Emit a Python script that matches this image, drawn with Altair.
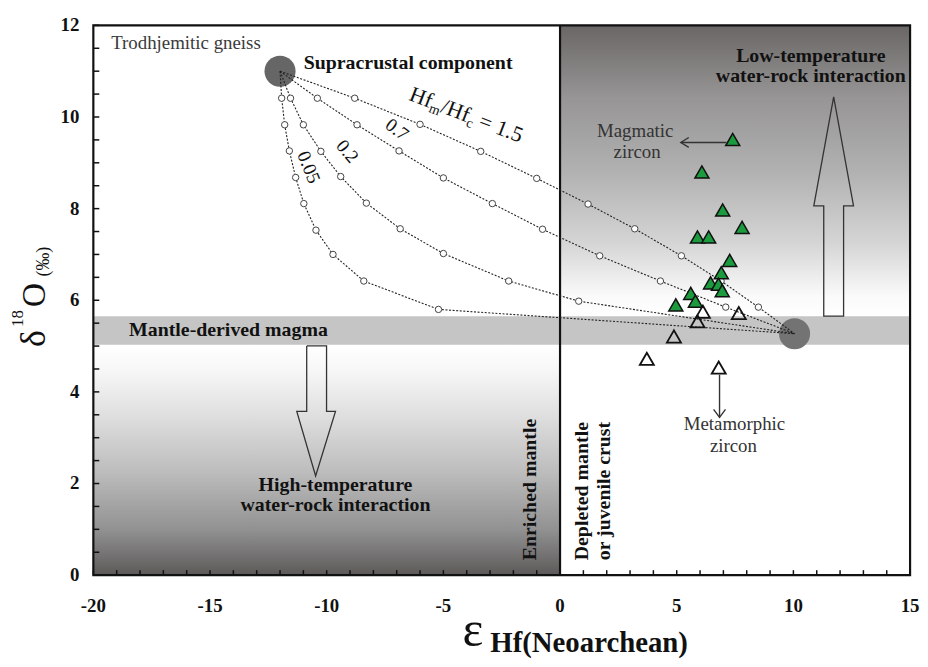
import math
import altair as alt
import pandas as pd

SERIF = "Liberation Serif"

# ---------------- data ----------------
x_labels = [-20, -15, -10, -5, 0, 5, 10, 15]
y_labels = [0, 2, 4, 6, 8, 10, 12]
x_minor = list(range(-20, 16))
y_minor = [i * 0.5 for i in range(0, 25)]

# magmatic zircon (filled green triangles)
mag_x = [7.40, 6.08, 6.97, 7.80, 5.89, 6.37, 7.27, 6.91, 6.45, 6.79, 6.95, 5.60, 5.80, 4.96]
mag_y = [9.51, 8.80, 7.97, 7.59, 7.38, 7.38, 6.87, 6.60, 6.38, 6.35, 6.21, 6.15, 5.98, 5.90]
# metamorphic zircon (open triangles)
met_x = [7.66, 6.12, 5.89, 4.88, 3.72, 6.80]
met_y = [5.72, 5.75, 5.54, 5.21, 4.72, 4.53]

# end members
supra = (-12.0, 11.0)
mantle = (10.05, 5.27)

# mixing curves (intermediate points)
curve_names = ["1.5", "0.7", "0.2", "0.05"]
c15_x = [-8.8, -6.0, -3.4, -1.0, 1.2, 3.2, 5.2, 6.9, 8.5]
c15_y = [10.41, 9.84, 9.25, 8.66, 8.10, 7.56, 6.97, 6.42, 5.85]
c07_x = [-10.4, -8.7, -6.9, -5.0, -2.9, -0.75, 1.7, 4.3, 7.1]
c07_y = [10.41, 9.83, 9.26, 8.67, 8.11, 7.55, 6.97, 6.42, 5.85]
c02_x = [-11.55, -11.0, -10.25, -9.4, -8.3, -6.85, -5.0, -2.2, 0.8]
c02_y = [10.41, 9.83, 9.25, 8.70, 8.12, 7.56, 7.02, 6.42, 5.98]
c005_x = [-11.93, -11.8, -11.6, -11.33, -10.98, -10.46, -9.73, -8.41, -5.21]
c005_y = [10.41, 9.83, 9.26, 8.68, 8.11, 7.53, 7.00, 6.42, 5.80]

# field limits
band_lo, band_hi = 5.03, 5.65

# ---------------- geometry helpers ----------------
W, H = 823, 554
X0, Y0 = 94, 23
XD = [-20, 15]
YD = [0, 12]


def dx(px):
    return XD[0] + (px - X0) / W * (XD[1] - XD[0])


def dy(py):
    return YD[1] - (py - Y0) / H * (YD[1] - YD[0])


xs = alt.Scale(domain=XD, nice=False, zero=False)
ys = alt.Scale(domain=YD, nice=False, zero=False)


def X(f="x"):
    return alt.X(f"{f}:Q", scale=xs, axis=None)


def Y(f="y"):
    return alt.Y(f"{f}:Q", scale=ys, axis=None)


layers = []

# ---------------- background fields ----------------
g_top = alt.Gradient(
    gradient="linear", x1=0, y1=0, x2=0, y2=1,
    stops=[
        alt.GradientStop(offset=0, color="#6a6666"),
        alt.GradientStop(offset=0.25, color="#979595"),
        alt.GradientStop(offset=0.5, color="#b1b1b1"),
        alt.GradientStop(offset=0.75, color="#d5d5d5"),
        alt.GradientStop(offset=0.93, color="#fafafa"),
        alt.GradientStop(offset=1, color="#ffffff"),
    ],
)
g_bot = alt.Gradient(
    gradient="linear", x1=0, y1=0, x2=0, y2=1,
    stops=[
        alt.GradientStop(offset=0, color="#ffffff"),
        alt.GradientStop(offset=0.1, color="#f8f8f8"),
        alt.GradientStop(offset=0.3, color="#e0e0e0"),
        alt.GradientStop(offset=0.55, color="#bdbdbd"),
        alt.GradientStop(offset=0.8, color="#929292"),
        alt.GradientStop(offset=1, color="#5d5959"),
    ],
)
top_df = pd.DataFrame({"x": [0], "x2": [15], "y": [band_hi], "y2": [12]})
bot_df = pd.DataFrame({"x": [-20], "x2": [0], "y": [0], "y2": [band_lo]})
band_df = pd.DataFrame({"x": [-20], "x2": [15], "y": [band_lo], "y2": [band_hi]})

layers.append(alt.Chart(top_df).mark_rect(fill=g_top).encode(x=X(), x2="x2:Q", y=Y(), y2="y2:Q"))
layers.append(alt.Chart(bot_df).mark_rect(fill=g_bot).encode(x=X(), x2="x2:Q", y=Y(), y2="y2:Q"))
layers.append(alt.Chart(band_df).mark_rect(color="#c5c5c5").encode(x=X(), x2="x2:Q", y=Y(), y2="y2:Q"))

# vertical divide at eHf = 0
zero_df = pd.DataFrame({"x": [0], "y": [0], "y2": [12]})
layers.append(alt.Chart(zero_df).mark_rule(color="#111", strokeWidth=2.2).encode(x=X(), y=Y(), y2="y2:Q"))

# big hollow arrows
up_px = [(840, 95), (860, 205), (850, 205), (850, 316), (830, 316), (830, 205), (820, 205), (840, 95)]
dn_px = [(309, 346), (329, 346), (329, 412), (338, 412), (318, 477), (299, 412), (309, 412), (309, 346)]
arr_rows = []
for name, pts in [("up", up_px), ("down", dn_px)]:
    for i, (px, py) in enumerate(pts):
        arr_rows.append({"a": name, "o": i, "x": dx(px), "y": dy(py)})
layers.append(alt.Chart(pd.DataFrame(arr_rows)).mark_line(color="#333", strokeWidth=1.3).encode(
    x=X(), y=Y(), detail="a:N", order="o:Q"))

# end-member circles
em_df = pd.DataFrame({"x": [supra[0], mantle[0]], "y": [supra[1], mantle[1]], "c": ["#676666", "#737373"]})
layers.append(alt.Chart(em_df).mark_circle(size=980, opacity=1).encode(
    x=X(), y=Y(), color=alt.Color("c:N", scale=None)))

# mixing curves
curve_rows, dot_rows = [], []
for name, cx, cy in [("1.5", c15_x, c15_y), ("0.7", c07_x, c07_y), ("0.2", c02_x, c02_y), ("0.05", c005_x, c005_y)]:
    pts = [supra] + list(zip(cx, cy)) + [mantle]
    for i, (a, b) in enumerate(pts):
        curve_rows.append({"r": name, "o": i, "x": a, "y": b})
    for a, b in zip(cx, cy):
        dot_rows.append({"r": name, "x": a, "y": b})
layers.append(alt.Chart(pd.DataFrame(curve_rows)).mark_line(
    color="#222", strokeWidth=1.1, strokeDash=[2, 1.6]).encode(x=X(), y=Y(), detail="r:N", order="o:Q"))
layers.append(alt.Chart(pd.DataFrame(dot_rows)).mark_point(
    shape="circle", size=42, filled=True, fill="white", stroke="#444", strokeWidth=1, opacity=1).encode(x=X(), y=Y()))

# zircon data
mag_df = pd.DataFrame({"x": mag_x, "y": mag_y})
met_df = pd.DataFrame({"x": met_x, "y": met_y})
layers.append(alt.Chart(mag_df).mark_point(
    shape="triangle-up", size=200, filled=True, fill="#1b9a3e", stroke="#111", strokeWidth=1.5, opacity=1).encode(x=X(), y=Y()))
layers.append(alt.Chart(met_df).mark_point(
    shape="triangle-up", size=200, filled=False, stroke="#111", strokeWidth=1.8, opacity=1).encode(x=X(), y=Y()))

# small annotation arrows
sm_rows = []
for name, pts in [
    ("mag_line", [(686, 141), (732, 141)]),
    ("mag_head", [(694, 136), (686, 141), (694, 146)]),
    ("met_line", [(725, 375), (725, 418)]),
    ("met_head", [(719, 410), (725, 418), (731, 410)]),
]:
    for i, (px, py) in enumerate(pts):
        sm_rows.append({"a": name, "o": i, "x": dx(px), "y": dy(py)})
layers.append(alt.Chart(pd.DataFrame(sm_rows)).mark_line(color="#333", strokeWidth=1.4).encode(
    x=X(), y=Y(), detail="a:N", order="o:Q"))


# ---------------- texts ----------------
def tlayer(rows, **kw):
    df = pd.DataFrame([{"x": dx(px), "y": dy(py), "t": t} for (t, px, py) in rows])
    return alt.Chart(df).mark_text(font=SERIF, **kw).encode(x=X(), y=Y(), text="t:N")


layers.append(tlayer([("Low-temperature", 817, 60), ("water-rock interaction", 817, 80),
                      ("High-temperature", 338, 492), ("water-rock interaction", 338, 512)],
                     fontSize=20, fontWeight="bold", align="center", baseline="alphabetic", color="#111"))
layers.append(tlayer([("Supracrustal component", 306, 67), ("Mantle-derived magma", 130, 336)],
                     fontSize=20, fontWeight="bold", align="left", baseline="alphabetic", color="#111"))
layers.append(tlayer([("Magmatic", 640, 135), ("zircon", 642, 157),
                      ("Metamorphic", 740, 431), ("zircon", 739, 453)],
                     fontSize=19, align="center", baseline="alphabetic", color="#333"))
layers.append(tlayer([("Trodhjemitic gneiss", 112, 47)],
                     fontSize=19, align="left", baseline="alphabetic", color="#3a3a3a"))
layers.append(tlayer([("Enriched mantle", 534, 562), ("Depleted mantle", 586, 562), ("or juvenile crust", 609, 562)],
                     fontSize=20, fontWeight="bold", align="left", baseline="middle", angle=270, color="#111"))

# curve labels
lab_rows = []
for t, px, py, ang in [("0.05", 311, 166, 68), ("0.2", 350, 150, 50), ("0.7", 400, 128, 37)]:
    lab_rows.append({"x": dx(px), "y": dy(py), "t": t, "fs": 19, "ang": ang})
layers.append(alt.Chart(pd.DataFrame(lab_rows)).mark_text(font=SERIF, align="center", baseline="middle", color="#111").encode(
    x=X(), y=Y(), text="t:N", size=alt.Size("fs:Q", scale=None, legend=None), angle=alt.Angle("ang:Q", scale=None)))

ang = 21
ux, uy = math.cos(math.radians(ang)), math.sin(math.radians(ang))
nx, ny = -math.sin(math.radians(ang)), math.cos(math.radians(ang))
sx, sy = 411, 98
pieces = [("Hf", 22, 0, 1.055), ("m", 14, 4, 0.778), ("/Hf", 22, 0, 1.333), ("c", 14, 4, 0.444 + 0.25 * 22 / 14),
          ("= 1.5", 22, 0, 2.1)]
cum = 0.0
hf_rows = []
for t, fs, sh, em in pieces:
    px = sx + cum * ux + sh * nx
    py = sy + cum * uy + sh * ny
    hf_rows.append({"x": dx(px), "y": dy(py), "t": t, "fs": fs, "ang": ang})
    cum += em * fs
layers.append(alt.Chart(pd.DataFrame(hf_rows)).mark_text(font=SERIF, align="left", baseline="alphabetic", color="#111").encode(
    x=X(), y=Y(), text="t:N", size=alt.Size("fs:Q", scale=None, legend=None), angle=alt.Angle("ang:Q", scale=None)))


# axis titles (pixel placed, outside plot)
def ptext(t, px, py, **kw):
    return alt.Chart(pd.DataFrame({"d": [0]})).mark_text(text=t, font=SERIF, color="#111", **kw).encode(
        x=alt.value(px - X0), y=alt.value(py - Y0))


layers.append(ptext("δ", 45, 347, fontSize=36, angle=270, align="left", baseline="alphabetic"))
layers.append(ptext("18", 23, 327, fontSize=17, angle=270, align="left", baseline="alphabetic"))
layers.append(ptext("O", 45, 307, fontSize=34, angle=270, align="left", baseline="alphabetic"))
layers.append(ptext("(‰)", 49, 276, fontSize=18, angle=270, align="left", baseline="alphabetic"))
layers.append(ptext("ε", 466, 648, fontSize=50, align="left", baseline="alphabetic"))
layers.append(ptext("Hf(Neoarchean)", 494, 654, fontSize=29, fontWeight="bold", align="left", baseline="alphabetic"))

# ---------------- tick labels, inward ticks and frame ----------------
xl_df = pd.DataFrame({"x": x_labels, "t": [str(v) for v in x_labels]})
yl_df = pd.DataFrame({"y": y_labels, "t": [str(v) for v in y_labels]})
layers.append(alt.Chart(xl_df).mark_text(font=SERIF, fontWeight="bold", fontSize=19, color="#111",
                                         align="center", baseline="alphabetic").encode(
    x=X(), y=alt.value(H + 37), text="t:N"))
layers.append(alt.Chart(yl_df).mark_text(font=SERIF, fontWeight="bold", fontSize=19, color="#111",
                                         align="right", baseline="middle").encode(
    y=Y(), x=alt.value(-14), text="t:N"))

xt_df = pd.DataFrame({"x": x_minor})
yt_df = pd.DataFrame({"y": y_minor})
layers.append(alt.Chart(xt_df).mark_rule(color="#111", strokeWidth=1.5).encode(
    x=X(), y=alt.value(H), y2=alt.value(H - 5)))
layers.append(alt.Chart(yt_df).mark_rule(color="#111", strokeWidth=1.5).encode(
    y=Y(), x=alt.value(0), x2=alt.value(6)))
frame_df = pd.DataFrame({"x": [-20], "x2": [15], "y": [0], "y2": [12]})
layers.append(alt.Chart(frame_df).mark_rect(filled=False, stroke="#111", strokeWidth=2.2).encode(
    x=X(), x2="x2:Q", y=Y(), y2="y2:Q"))

chart = alt.layer(*layers).properties(
    width=W, height=H,
    autosize=alt.AutoSizeParams(type="none"),
    padding={"left": 86, "top": 15, "right": 10, "bottom": 82},
    background="white",
).configure_view(strokeWidth=0)

chart.save("out.html", embed_options={"renderer": "svg", "actions": False})
